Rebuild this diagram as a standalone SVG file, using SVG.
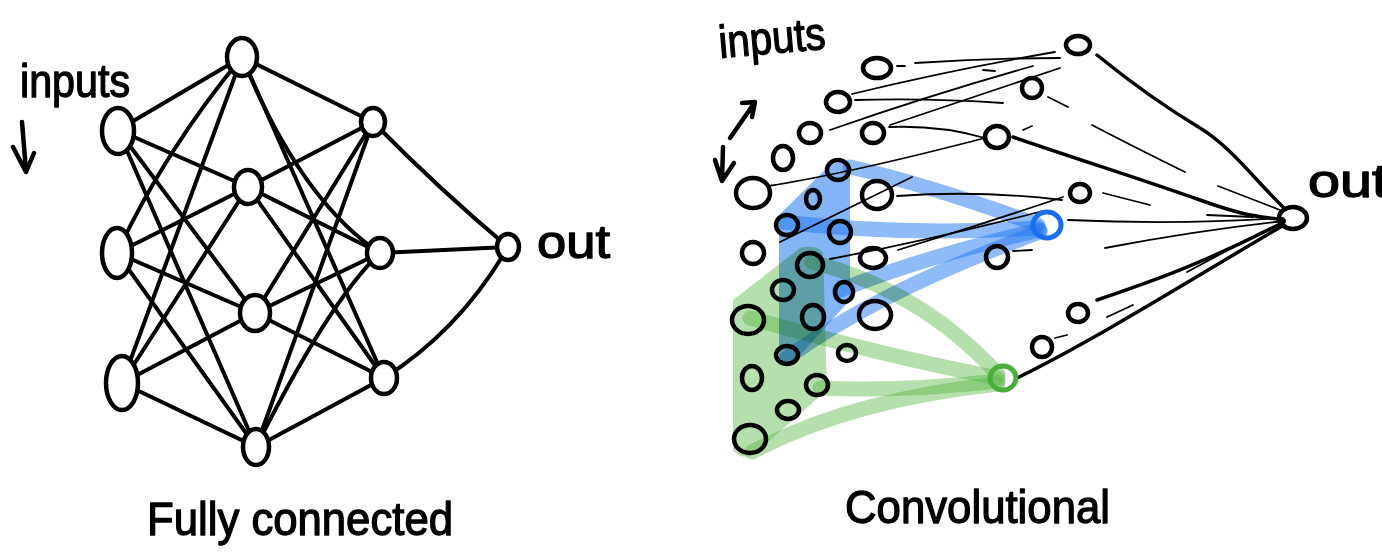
<svg xmlns="http://www.w3.org/2000/svg" width="1382" height="557" viewBox="0 0 1382 557">
  <style>
    .n { fill: #fff; stroke: #000; stroke-width: 4.5; }
    .c { fill: none; stroke: #000; stroke-width: 4.5; }
    .cb { fill: none; stroke: #1a6ff0; stroke-width: 5; }
    .cg { fill: none; stroke: #4cae3a; stroke-width: 5; }
    .e { fill: none; stroke: #000; stroke-width: 4; stroke-linecap: round; }
    .thin { fill: none; stroke: #000; stroke-width: 1.8; stroke-linecap: round; }
    .thick { fill: none; stroke: #000; stroke-width: 3.5; stroke-linecap: round; }
    .arw { fill: none; stroke: #000; stroke-width: 4.5; stroke-linecap: round; stroke-linejoin: round; }
    .lbl { font-family: "Liberation Sans", Arial, sans-serif; font-size: 46px; fill: #000; stroke: #000; stroke-width: 1.3; stroke-linejoin: round; }
    .bl { fill: #1f78f2; opacity: 0.55; }
    .blb { fill: none; stroke: #1f78f2; stroke-width: 15; stroke-linecap: round; opacity: 0.5; }
    .gr { fill: #5cb848; opacity: 0.45; }
    .grb { fill: none; stroke: #5cb848; stroke-width: 15; stroke-linecap: round; opacity: 0.45; }
  </style>

  <!-- ===== Fully connected network ===== -->
  <g id="fc-edges">
    <!-- inputs to first hidden layer -->
    <line class="e" x1="118" y1="130" x2="242" y2="57"/>
    <line class="e" x1="118" y1="130" x2="248" y2="187"/>
    <line class="e" x1="118" y1="130" x2="255" y2="313"/>
    <line class="e" x1="118" y1="130" x2="256" y2="447"/>
    <path class="e" d="M117,253 Q165,150 242,57"/>
    <line class="e" x1="117" y1="253" x2="248" y2="187"/>
    <line class="e" x1="117" y1="253" x2="255" y2="313"/>
    <line class="e" x1="117" y1="253" x2="256" y2="447"/>
    <line class="e" x1="122" y1="383" x2="242" y2="57"/>
    <line class="e" x1="122" y1="383" x2="248" y2="187"/>
    <line class="e" x1="122" y1="383" x2="255" y2="313"/>
    <line class="e" x1="122" y1="383" x2="256" y2="447"/>
    <!-- first hidden layer to second hidden layer -->
    <line class="e" x1="242" y1="57" x2="373" y2="122"/>
    <path class="e" d="M242,57 Q300,200 380,253"/>
    <line class="e" x1="242" y1="57" x2="384" y2="378"/>
    <line class="e" x1="248" y1="187" x2="373" y2="122"/>
    <line class="e" x1="248" y1="187" x2="380" y2="253"/>
    <line class="e" x1="248" y1="187" x2="384" y2="378"/>
    <line class="e" x1="255" y1="313" x2="373" y2="122"/>
    <line class="e" x1="255" y1="313" x2="380" y2="253"/>
    <line class="e" x1="255" y1="313" x2="384" y2="378"/>
    <line class="e" x1="256" y1="447" x2="373" y2="122"/>
    <path class="e" d="M256,447 Q330,300 380,253"/>
    <line class="e" x1="256" y1="447" x2="384" y2="378"/>
    <!-- second hidden layer to output -->
    <path class="e" d="M373,122 Q440,190 508,247" stroke-width="3"/>
    <line class="e" x1="380" y1="253" x2="508" y2="247"/>
    <path class="e" d="M384,378 Q460,330 508,247" stroke-width="3"/>
  </g>

  <g id="fc-in1"><ellipse class="n" cx="118" cy="131" rx="16" ry="23"/></g>
  <g id="fc-in2"><ellipse class="n" cx="117" cy="253" rx="15" ry="25"/></g>
  <g id="fc-in3"><ellipse class="n" cx="122" cy="383" rx="16" ry="27"/></g>
  <g id="fc-h1a"><ellipse class="n" cx="242" cy="57" rx="15" ry="19"/></g>
  <g id="fc-h1b"><ellipse class="n" cx="248" cy="187" rx="14" ry="17"/></g>
  <g id="fc-h1c"><ellipse class="n" cx="255" cy="313" rx="15" ry="18"/></g>
  <g id="fc-h1d"><ellipse class="n" cx="256" cy="447" rx="13" ry="18"/></g>
  <g id="fc-h2a"><ellipse class="n" cx="373" cy="122" rx="12" ry="14"/></g>
  <g id="fc-h2b"><ellipse class="n" cx="380" cy="253" rx="13" ry="15"/></g>
  <g id="fc-h2c"><ellipse class="n" cx="384" cy="378" rx="13" ry="16"/></g>
  <g id="fc-out"><ellipse class="n" cx="508" cy="247" rx="11" ry="13"/></g>

  <g id="fc-labels">
    <text class="lbl" x="20" y="97" font-size="42" textLength="110" lengthAdjust="spacingAndGlyphs">inputs</text>
    <path class="arw" d="M22,122 L26,171 M13,147 L26,172 L34,153"/>
    <text class="lbl" x="537" y="258" textLength="73" lengthAdjust="spacingAndGlyphs">out</text>
    <text class="lbl" x="147" y="535" textLength="306" lengthAdjust="spacingAndGlyphs">Fully connected</text>
  </g>

  <!-- ===== Convolutional network ===== -->
  <!-- receptive field of the blue unit -->
  <g id="field-blue">
    <path class="bl" d="M779,215 L830,165 Q840,160 850,164 L850,300 L792,364 Q780,368 779,358 Z"/>
    <path class="blb" d="M850,167 Q930,185 1038,225"/>
    <path class="blb" d="M783,222 Q900,236 1038,228"/>
    <path class="blb" d="M840,290 Q930,255 1040,230"/>
    <path class="blb" d="M787,358 Q880,290 1040,232"/>
  </g>
  <!-- receptive field of the green unit -->
  <g id="field-green" style="mix-blend-mode:multiply">
    <path class="gr" d="M733,300 L800,248 Q815,244 823,252 L827,390 L768,442 Q752,462 738,455 L733,450 Z"/>
    <path class="grb" d="M812,262 Q920,290 998,374"/>
    <path class="grb" d="M750,318 Q880,355 998,378"/>
    <path class="grb" d="M820,388 Q900,392 998,381"/>
    <path class="grb" d="M752,452 Q850,400 998,384"/>
  </g>

  <g id="conv-edges">
    <!-- inputs to hidden units -->
    <path class="thin" d="M897,66 L905,66"/>
    <path class="thin" d="M915,63 Q990,58 1060,58"/>
    <path class="thin" d="M983,70 L995,71"/>
    <path class="thin" d="M852,94 Q950,70 1055,52"/>
    <path class="thin" d="M855,100 Q930,98 1003,103"/>
    <path class="thin" d="M830,130 Q930,95 1033,66"/>
    <path class="thin" d="M890,125 Q980,95 1060,68"/>
    <path class="thin" d="M889,127 Q940,125 985,138"/>
    <path class="thin" d="M768,186 C820,178 900,160 985,138"/>
    <path class="thin" d="M780,242 L912,177"/>
    <path class="thin" d="M897,196 Q980,190 1062,200"/>
    <path class="thin" d="M830,259 Q930,240 1043,211"/>
    <path class="thin" d="M898,250 Q980,225 1063,197"/>
    <path class="thin" d="M1023,130 L1032,126"/>
    <path class="thin" d="M1048,97 L1068,107"/>
    <path class="thin" d="M1013,251 L1032,250"/>
    <path class="thin" d="M1055,338 L1067,335"/>
    <!-- hidden units to output -->
    <path class="thick" d="M1097,55 C1140,90 1170,110 1200,128 S1255,180 1284,208"/>
    <path class="thick" d="M1013,137 C1080,160 1150,182 1200,200 S1260,216 1284,220" stroke-width="2.8"/>
    <path class="thin" d="M1092,125 Q1140,150 1185,172"/>
    <path class="thin" d="M1218,186 L1280,210"/>
    <path class="thin" d="M1103,193 L1150,205"/>
    <path class="thin" d="M1068,220 Q1180,225 1283,218"/>
    <path class="thin" d="M1207,215 L1253,217"/>
    <path class="thin" d="M1105,248 Q1200,230 1285,221"/>
    <path class="thick" d="M1097,300 C1150,282 1200,265 1284,222"/>
    <path class="thin" d="M1187,272 L1262,232"/>
    <path class="thin" d="M1107,317 L1133,305"/>
    <path class="thick" d="M1017,378 C1100,337 1190,280 1284,225"/>
  </g>

  <!-- input grid -->
  <g id="cv-a1"><ellipse class="c" cx="753" cy="193" rx="17" ry="15"/></g>
  <g id="cv-a2"><ellipse class="c" cx="753" cy="253" rx="11" ry="11"/></g>
  <g id="cv-a3"><ellipse class="c" cx="748" cy="320" rx="16" ry="14"/></g>
  <g id="cv-a4"><ellipse class="c" cx="752" cy="378" rx="10" ry="12"/></g>
  <g id="cv-a5"><ellipse class="c" cx="750" cy="439" rx="16" ry="14"/></g>
  <g id="cv-b1"><ellipse class="c" cx="783" cy="158" rx="10" ry="12"/></g>
  <g id="cv-b2"><ellipse class="c" cx="787" cy="225" rx="11" ry="10"/></g>
  <g id="cv-b3"><ellipse class="c" cx="783" cy="290" rx="11" ry="10"/></g>
  <g id="cv-b4"><ellipse class="c" cx="787" cy="355" rx="11" ry="9"/></g>
  <g id="cv-b5"><ellipse class="c" cx="788" cy="410" rx="11" ry="9"/></g>
  <g id="cv-c1"><ellipse class="c" cx="810" cy="133" rx="11" ry="10"/></g>
  <g id="cv-c2"><ellipse class="c" cx="813" cy="199" rx="7" ry="9"/></g>
  <g id="cv-c3"><ellipse class="c" cx="810" cy="265" rx="13" ry="12"/></g>
  <g id="cv-c4"><ellipse class="c" cx="813" cy="317" rx="11" ry="12"/></g>
  <g id="cv-c5"><ellipse class="c" cx="817" cy="385" rx="11" ry="10"/></g>
  <g id="cv-d1"><ellipse class="c" cx="838" cy="102" rx="12" ry="10"/></g>
  <g id="cv-d2"><ellipse class="c" cx="838" cy="170" rx="11" ry="10"/></g>
  <g id="cv-d3"><ellipse class="c" cx="840" cy="232" rx="11" ry="11"/></g>
  <g id="cv-d4"><ellipse class="c" cx="844" cy="292" rx="9" ry="10"/></g>
  <g id="cv-d5"><ellipse class="c" cx="847" cy="353" rx="9" ry="8"/></g>
  <g id="cv-e1"><ellipse class="c" cx="877" cy="68" rx="14" ry="10"/></g>
  <g id="cv-e2"><ellipse class="c" cx="873" cy="133" rx="11" ry="10"/></g>
  <g id="cv-e3"><ellipse class="c" cx="877" cy="195" rx="15" ry="14"/></g>
  <g id="cv-e4"><ellipse class="c" cx="873" cy="258" rx="13" ry="10"/></g>
  <g id="cv-e5"><ellipse class="c" cx="875" cy="315" rx="16" ry="14"/></g>

  <!-- hidden units -->
  <g id="cv-h1"><ellipse class="c" cx="997" cy="137" rx="12" ry="11"/></g>
  <g id="cv-h2"><ellipse class="c" cx="1032" cy="88" rx="10" ry="10"/></g>
  <g id="cv-h3"><ellipse class="c" cx="1078" cy="45" rx="12" ry="9"/></g>
  <g id="cv-h4"><ellipse class="c" cx="997" cy="257" rx="11" ry="11"/></g>
  <g id="cv-h5"><ellipse class="cb" cx="1047" cy="225" rx="14" ry="13"/></g>
  <g id="cv-h6"><ellipse class="c" cx="1080" cy="193" rx="10" ry="9"/></g>
  <g id="cv-h7"><ellipse class="cg" cx="1003" cy="378" rx="13" ry="12"/></g>
  <g id="cv-h8"><ellipse class="c" cx="1042" cy="347" rx="10" ry="10"/></g>
  <g id="cv-h9"><ellipse class="c" cx="1078" cy="313" rx="10" ry="9"/></g>

  <g id="cv-out"><ellipse class="c" cx="1293" cy="218" rx="14" ry="11"/></g>

  <g id="cv-labels">
    <text class="lbl" x="720" y="58" font-size="42" textLength="107" lengthAdjust="spacingAndGlyphs" transform="rotate(-5 720 58)">inputs</text>
    <path class="arw" d="M730,138 L753,105 M742,103 L755,102 L752,117"/>
    <path class="arw" d="M723,147 L722,180 M715,160 L722,181 L734,163"/>
    <text class="lbl" x="1308" y="197" textLength="80" lengthAdjust="spacingAndGlyphs">out</text>
    <text class="lbl" x="845" y="523" textLength="265" lengthAdjust="spacingAndGlyphs">Convolutional</text>
  </g>
</svg>
